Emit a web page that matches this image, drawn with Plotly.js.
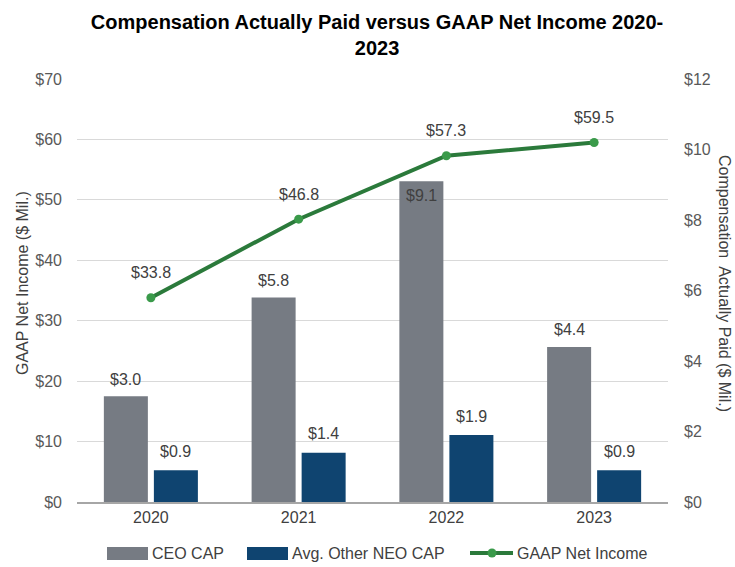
<!DOCTYPE html>
<html>
<head>
<meta charset="utf-8">
<script src="https://cdn.plot.ly/plotly-3.0.1.min.js"></script>
<style>html,body{margin:0;padding:0;background:#fff;}#chart{width:735px;height:567px;}</style>
</head>
<body>
<div id="chart"></div>
<script>
// ---- data ----
var years = ["2020", "2021", "2022", "2023"];
var ceoCap = [3.0, 5.8, 9.1, 4.4];          // $ Mil., right axis
var neoCap = [0.9, 1.4, 1.9, 0.9];          // $ Mil., right axis
var netIncome = [33.8, 46.8, 57.3, 59.5];   // $ Mil., left axis
var ceoLabelPos = ["above", "above", "inside", "above"];
var seriesNames = ["CEO CAP", "Avg. Other NEO CAP", "GAAP Net Income"];

// ---- styling ----
var FONT = "Liberation Sans, Arial, sans-serif";
var GRAY = "#767b83", NAVY = "#0f4470", GREEN = "#2b7a3b", GREEN_M = "#3a9a4a";
var TXT = "#404040";
var L = 77, R = 668, T = 79, B = 502, W = 735, H = 567;
function px(x) { return (x - L) / (R - L); }
function py(y) { return (B - y) / (B - T); }

var traces = [
  { type: "bar", x: years, y: ceoCap, name: seriesNames[0], yaxis: "y2",
    marker: { color: GRAY }, hoverinfo: "skip" },
  { type: "bar", x: years, y: neoCap, name: seriesNames[1], yaxis: "y2",
    marker: { color: NAVY }, hoverinfo: "skip" },
  { type: "scatter", mode: "lines+markers", x: years, y: netIncome, name: seriesNames[2],
    yaxis: "y", line: { color: GREEN, width: 4 }, marker: { color: GREEN_M, size: 9 },
    hoverinfo: "skip" }
];

var labelFont = { family: FONT, size: 16, color: TXT };
var annotations = [];
years.forEach(function (yr, i) {
  // category index i is the position of category years[i]
  annotations.push({ x: i, y: netIncome[i], xref: "x", yref: "y", text: "$" + netIncome[i].toFixed(1),
    showarrow: false, yshift: 25, font: labelFont });
  var inside = ceoLabelPos[i] === "inside";
  annotations.push({ x: i, y: ceoCap[i], xref: "x", yref: "y2", text: "$" + ceoCap[i].toFixed(1),
    showarrow: false, xshift: -25, yshift: inside ? -14 : 17, font: labelFont });
  annotations.push({ x: i, y: neoCap[i], xref: "x", yref: "y2", text: "$" + neoCap[i].toFixed(1),
    showarrow: false, xshift: 25, yshift: 19, font: labelFont });
});

// axis titles
annotations.push({ xref: "paper", yref: "paper", x: px(22), y: py(283), xanchor: "center", yanchor: "middle",
  text: "GAAP Net Income ($ Mil.)", textangle: -90, showarrow: false, font: { family: FONT, size: 16, color: TXT } });
annotations.push({ xref: "paper", yref: "paper", x: px(725), y: py(283), xanchor: "center", yanchor: "middle",
  text: "Compensation  Actually Paid ($ Mil.)", textangle: 90, showarrow: false, font: { family: FONT, size: 16, color: TXT } });

// custom legend
var legY = 553;
var shapes = [
  { type: "rect", xref: "paper", yref: "paper", x0: px(107), x1: px(148), y0: py(560), y1: py(547),
    fillcolor: GRAY, line: { width: 0 } },
  { type: "rect", xref: "paper", yref: "paper", x0: px(247), x1: px(288), y0: py(560), y1: py(547),
    fillcolor: NAVY, line: { width: 0 } },
  { type: "line", xref: "paper", yref: "paper", x0: px(470), x1: px(513), y0: py(legY), y1: py(legY),
    line: { color: GREEN, width: 4 } },
  { type: "circle", xref: "paper", yref: "paper", x0: px(487.5), x1: px(496.5), y0: py(legY + 4.5), y1: py(legY - 4.5),
    fillcolor: GREEN_M, line: { width: 0 } }
];
var legX = [150, 290, 515];
seriesNames.forEach(function (n, i) {
  annotations.push({ xref: "paper", yref: "paper", x: px(legX[i]), y: py(legY), xanchor: "left", yanchor: "middle",
    text: n, showarrow: false, font: { family: FONT, size: 16, color: TXT } });
});

var layout = {
  width: W, height: H,
  margin: { l: L, r: W - R, t: T, b: H - B, pad: 0 },
  paper_bgcolor: "#fff", plot_bgcolor: "#fff",
  title: { text: "<b>Compensation Actually Paid versus GAAP Net Income 2020-<br>2023</b>",
    x: 0.513, xanchor: "center", y: 1 - 29 / H, yanchor: "middle",
    font: { family: FONT, size: 20, color: "#000" } },
  showlegend: false,
  barmode: "group", bargap: 0.323, bargroupgap: 0.12,
  xaxis: { type: "category", range: [-0.5, 3.5], showgrid: false, zeroline: false, showline: true,
    linecolor: "#a6a6a6", linewidth: 2,
    ticks: "", tickfont: { family: FONT, size: 16, color: TXT }, fixedrange: true },
  yaxis: { range: [0, 70], dtick: 10, tickprefix: "$", showgrid: true, gridcolor: "#d9d9d9", gridwidth: 1,
    zeroline: false, showline: false, ticks: "", ticklabelstandoff: 14,
    tickfont: { family: FONT, size: 16, color: "#595959" }, fixedrange: true },
  yaxis2: { range: [0, 12], dtick: 2, tickprefix: "$", overlaying: "y", side: "right", showgrid: false,
    zeroline: false, showline: false, ticks: "", ticklabelstandoff: 15,
    tickfont: { family: FONT, size: 16, color: "#595959" }, fixedrange: true },
  annotations: annotations,
  shapes: shapes
};

Plotly.newPlot("chart", traces, layout, { displayModeBar: false, staticPlot: true });
</script>
</body>
</html>
